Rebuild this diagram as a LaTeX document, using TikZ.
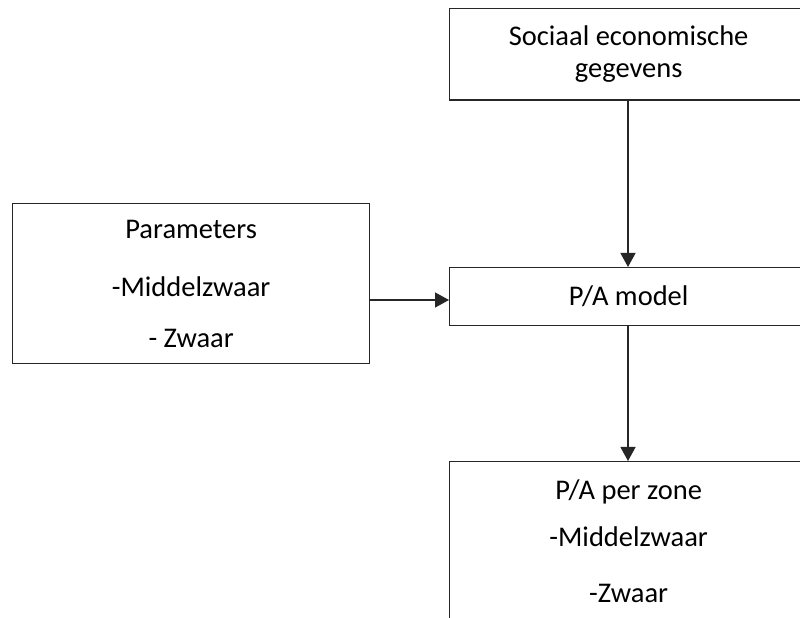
\documentclass[tikz,border=0pt]{standalone}
\usepackage{fontspec}
\setmainfont{Carlito}
\usetikzlibrary{arrows.meta}
\begin{document}
\begin{tikzpicture}[x=1pt,y=1pt,
  box/.style={draw=black!85, line width=1.3pt, rectangle, inner sep=0pt, align=center, font=\fontsize{28.5}{34}\selectfont},
  arr/.style={draw=black!85, line width=1.3pt, -{Triangle[length=14pt,width=15pt]}}]
\useasboundingbox (0,0) rectangle (800,618);
\clip (0,0) rectangle (800,618);
\fill[white] (0,0) rectangle (800,618);
\node[box, minimum width=358pt, minimum height=91.5pt, anchor=north west] (soc) at (449,610)
  {Sociaal economische\\[-2pt]gegevens};
\node[box, minimum width=357pt, minimum height=160pt, anchor=north west] (params) at (12,415)
  {Parameters\\[24pt]-Middelzwaar\\[17pt]- Zwaar};
\node[box, minimum width=358pt, minimum height=58pt, anchor=north west] (model) at (449,351)
  {P/A model};
\node[box, minimum width=358pt, minimum height=160pt, anchor=north west] (zone) at (449,157)
  {P/A per zone\\[13pt]-Middelzwaar\\[22pt]-Zwaar};
\draw[arr] (soc.south -| 628,0) -- (model.north -| 628,0);
\draw[arr] (model.south -| 628,0) -- (zone.north -| 628,0);
\draw[arr] (params.east |- 0,318) -- (model.west |- 0,318);
\end{tikzpicture}
\end{document}
